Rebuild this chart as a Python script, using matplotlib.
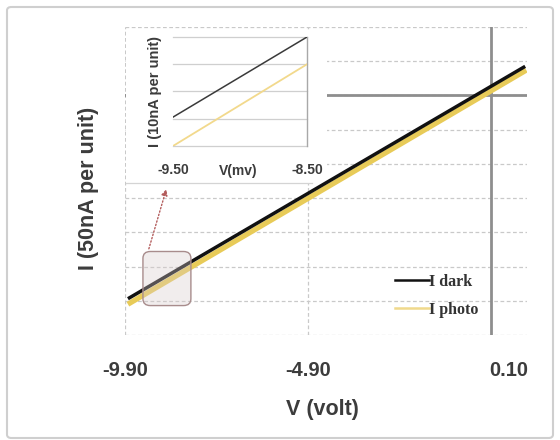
import matplotlib
matplotlib.use("Agg")
import matplotlib.pyplot as plt
import matplotlib.patches as mpatches
import matplotlib.transforms as mtransforms
from matplotlib.lines import Line2D

plt.rcParams['font.family'] = ['Liberation Sans', 'DejaVu Sans']

# ── main chart data ──
v_dark = [-9.82, 1.03]
i_dark = [-5.94, 0.85]
v_photo = [-9.82, 1.06]
i_photo = [-6.10, 0.74]
x_ticks = [-9.9, -4.9, 0.1]
x_ticklabels = ['-9.90', '-4.90', '0.10']
y_grid = list(range(-7, 3))

# ── inset (zoomed) data ──
v_in = [-9.5, -8.5]
i_in_dark = [1.06, 4.0]
i_in_photo = [0.0, 3.0]
in_ticks = [-9.5, -8.5]
in_ticklabels = ['-9.50', '-8.50']
in_grid = [0, 1, 2, 3, 4]

W, H = 560, 440
TXT = '#3c3c3c'
fig = plt.figure(figsize=(5.6, 4.4), dpi=100)
fig.patch.set_facecolor('white')

# outer rounded frame
fig.patches.append(mpatches.FancyBboxPatch(
    (7 / W, 1 - 438 / H), 546 / W, 431 / H,
    boxstyle='round,pad=0,rounding_size=0.008',
    transform=fig.transFigure, facecolor='none',
    edgecolor='#cfcfcf', linewidth=1.5, zorder=0))

# ── main axes ──
ax = fig.add_axes([125 / W, 1 - 335 / H, 402 / W, 308 / H])
ax.set_zorder(1)
ax.set_xlim(-9.9, 1.08)
ax.set_ylim(-7, 2)
for s in ax.spines.values():
    s.set_visible(False)

for y in y_grid:
    ax.axhline(y, color='#c9c9c9', lw=0.9, ls=(0, (3, 2)), zorder=0)
for x in x_ticks[:2]:
    ax.axvline(x, color='#c9c9c9', lw=0.9, ls=(0, (3, 2)), zorder=0)
ax.axhline(0, color='#8e8e8e', lw=2, zorder=1)
ax.axvline(0.1, color='#8e8e8e', lw=2, zorder=1)

# white backdrop of the inset chart (above grid, below the curves)
ax.add_patch(mpatches.Rectangle(
    (126 / W, 1 - 183 / H), 201 / W, 153 / H, transform=fig.transFigure,
    facecolor='white', edgecolor='none', zorder=2, clip_on=False))
ax.add_line(Line2D([126 / W, 312 / W], [1 - 183 / H] * 2, transform=fig.transFigure,
                   color='#d4d4d4', lw=0.9, zorder=2, clip_on=False))

ax.plot(v_photo, i_photo, color='#E8CB58', lw=3.8, solid_capstyle='butt', zorder=3)
ax.plot(v_dark, i_dark, color='#111111', lw=2.5, solid_capstyle='butt', zorder=4)

ax.set_xticks(x_ticks)
ax.set_xticklabels(x_ticklabels, fontsize=14.5, fontweight='bold', color=TXT)
ax.set_yticks([])
ax.tick_params(axis='x', length=0, pad=19)
shift = mtransforms.ScaledTranslation(18 / 100, 0, fig.dpi_scale_trans)
last = ax.get_xticklabels()[-1]
last.set_transform(last.get_transform() + shift)

ax.set_xlabel('V (volt)', fontsize=15.5, fontweight='bold', color=TXT)
ax.xaxis.set_label_coords(0.49, -0.207)
ax.set_ylabel('I (50nA per unit)', fontsize=15.5, fontweight='bold', color=TXT)
ax.yaxis.set_label_coords(-0.065, 0.477)

handles = [Line2D([], [], color='#111111', lw=1.8), Line2D([], [], color='#F0D98C', lw=1.8)]
leg = ax.legend(handles, ['I dark', 'I photo'], loc='center left',
                bbox_to_anchor=(395 / W, 1 - 296 / H), bbox_transform=fig.transFigure,
                frameon=False, borderpad=0, borderaxespad=0, handlelength=2.1,
                handletextpad=0.05, labelspacing=0.75,
                prop={'family': 'Liberation Serif', 'weight': 'bold', 'size': 11.5})
for t in leg.get_texts():
    t.set_color('#333333')

# highlighted region and arrow to inset
ax.add_patch(mpatches.FancyBboxPatch(
    (-9.41, -6.14), 1.31, 1.58, boxstyle='round,pad=0,rounding_size=0.2',
    facecolor=(0.85, 0.80, 0.80, 0.35),
    edgecolor='#a88c8c', lw=1.0, zorder=5))
ax.annotate('', xy=(-8.75, -2.66), xytext=(-9.27, -4.56),
            arrowprops=dict(arrowstyle='-|>', color='#b35c5c', lw=1.0,
                            ls=(0, (1, 1.5)), mutation_scale=9),
            annotation_clip=False, zorder=6)

# ── inset axes ──
ai = fig.add_axes([173 / W, 1 - 146 / H, 134 / W, 109 / H])
ai.set_zorder(3)
ai.set_facecolor('white')
ai.set_xlim(-9.5, -8.5)
ai.set_ylim(0, 4)
for k, s in ai.spines.items():
    s.set_visible(k == 'right')
ai.spines['right'].set_color('#a8a8a8')
ai.spines['right'].set_linewidth(1.0)
for y in in_grid:
    ai.axhline(y, color='#cfcfcf', lw=0.9, zorder=0, clip_on=False)
ai.plot(v_in, i_in_photo, color='#F2D98C', lw=1.3, zorder=3)
ai.plot(v_in, i_in_dark, color='#3a3a3a', lw=1.1, zorder=3)
ai.set_yticks([])
ai.set_xticks(in_ticks)
ai.set_xticklabels(in_ticklabels, fontsize=10, fontweight='bold', color=TXT)
ai.tick_params(axis='x', length=0, pad=12)
ai.set_xlabel('V(mv)', fontsize=10, fontweight='bold', color=TXT)
ai.xaxis.set_label_coords(0.485, -0.165)
ai.set_ylabel('I (10nA per unit)', fontsize=10.5, fontweight='bold', color=TXT)
ai.yaxis.set_label_coords(-0.085, 0.5)

fig.savefig('out.png', dpi=100)
